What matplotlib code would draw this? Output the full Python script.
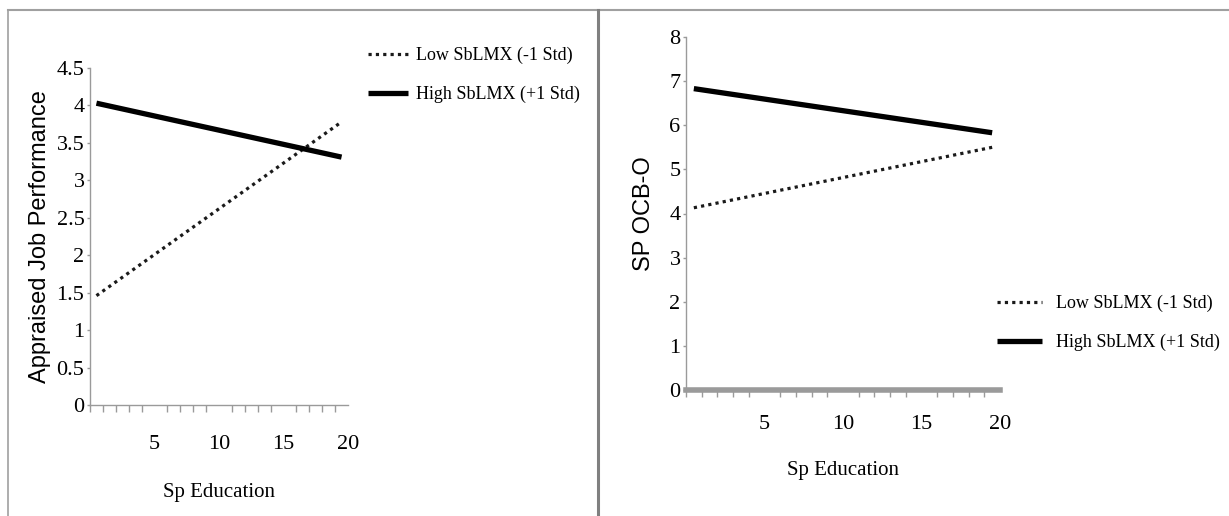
import matplotlib
matplotlib.use("Agg")
import matplotlib.pyplot as plt
from matplotlib.lines import Line2D

plt.rcParams['font.family'] = ['Liberation Serif', 'DejaVu Serif']

# Data
edu_x = [0.5, 19.5]
left_low = [1.46, 3.78]
left_high = [4.03, 3.31]
right_low = [4.13, 5.50]
right_high = [6.83, 5.83]

low_label = "Low SbLMX (-1 Std)"
high_label = "High SbLMX (+1 Std)"
xlabel = "Sp Education"
left_ylabel = "Appraised Job Performance"
right_ylabel = "SP OCB-O"
xticks = [5, 10, 15, 20]
left_yticks = [0, 0.5, 1, 1.5, 2, 2.5, 3, 3.5, 4, 4.5]
right_yticks = [0, 1, 2, 3, 4, 5, 6, 7, 8]

W, H = 1229, 516
fig = plt.figure(figsize=(W / 100, H / 100), dpi=100)

TICK_FS = 16
LEG_FS = 13
GRAY = '#9a9a9a'

def style(ax, ylim, yticks, ylabel, ylabel_fs, ylabelpad, xaxis_lw, xpad, xlabelpad):
    ax.set_xlim(0, 20)
    ax.set_ylim(*ylim)
    for s in ['top', 'right']:
        ax.spines[s].set_visible(False)
    ax.spines['left'].set_color(GRAY)
    ax.spines['left'].set_linewidth(1.0)
    ax.spines['bottom'].set_color(GRAY)
    ax.spines['bottom'].set_linewidth(xaxis_lw)
    ax.set_xticks(xticks)
    ax.set_xticks(range(0, 21), minor=True)
    ax.set_yticks(yticks)
    ax.set_yticklabels([('%g' % v) for v in yticks], fontsize=TICK_FS)
    ax.set_xticklabels([str(v) for v in xticks], fontsize=TICK_FS)
    ax.tick_params(axis='x', which='major', length=0, pad=xpad)
    ax.tick_params(axis='x', which='minor', length=5, color=GRAY, width=1)
    ax.tick_params(axis='y', length=2.5, color=GRAY, width=1, pad=1.5)
    ax.set_xlabel(xlabel, fontsize=15, labelpad=xlabelpad)
    ax.set_ylabel(ylabel, fontsize=ylabel_fs, labelpad=ylabelpad,
                  family=['Liberation Sans', 'DejaVu Sans'])

# Left panel
axL = fig.add_axes([90 / W, 1 - 405 / H, 258 / W, (405 - 68) / H])
axL.plot(edu_x, left_low, color='#1a1a1a', lw=2.3, linestyle=(0, (1, 1.3)), label=low_label)
axL.plot(edu_x, left_high, color='black', lw=3.8, solid_capstyle='butt', label=high_label)
style(axL, (0, 4.5), left_yticks, left_ylabel, 17, 4, 1.0, 21.5, 21)
axL.legend(loc='upper left', bbox_to_anchor=(368 / W, 1 - 47 / H), bbox_transform=fig.transFigure,
           frameon=False, fontsize=LEG_FS, handlelength=2.2, handletextpad=0.45, labelspacing=1.2,
           borderaxespad=0, borderpad=0)

# Right panel
axR = fig.add_axes([686 / W, 1 - 390 / H, 314 / W, (390 - 37) / H])
axR.plot(edu_x, right_low, color='#1a1a1a', lw=2.3, linestyle=(0, (1, 1.3)), label=low_label)
axR.plot(edu_x, right_high, color='black', lw=3.8, solid_capstyle='butt', label=high_label)
style(axR, (0, 8), right_yticks, right_ylabel, 17, 10, 4.0, 18, 19.5)
axR.legend(loc='upper left', bbox_to_anchor=(997 / W, 1 - 295 / H), bbox_transform=fig.transFigure,
           frameon=False, fontsize=LEG_FS, handlelength=2.5, handletextpad=0.75, labelspacing=1.2,
           borderaxespad=0, borderpad=0)

# Frame lines
fig.add_artist(Line2D([8 / W, 8 / W], [0, 1 - 10 / H], transform=fig.transFigure, color='#a0a0a0', lw=1.2))
fig.add_artist(Line2D([8 / W, 1], [1 - 10 / H, 1 - 10 / H], transform=fig.transFigure, color='#a0a0a0', lw=1.5))
fig.add_artist(Line2D([598 / W, 598 / W], [0, 1 - 10 / H], transform=fig.transFigure, color='#808080', lw=2.2))

fig.savefig('out.png', dpi=100)
